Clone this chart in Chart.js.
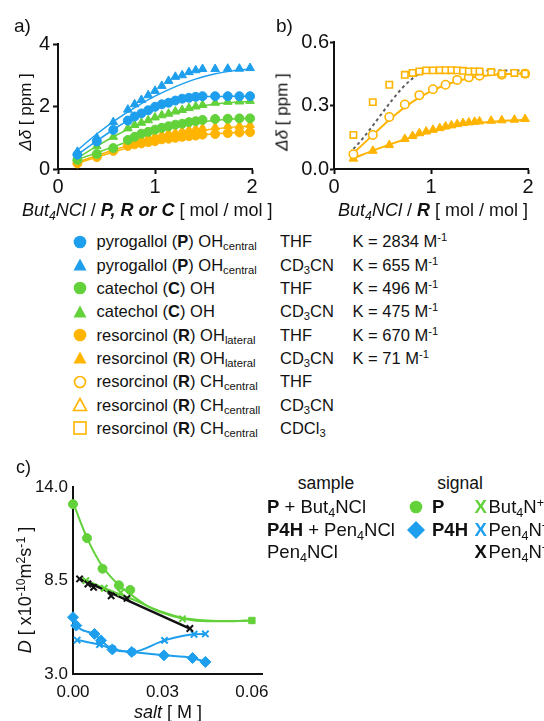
<!DOCTYPE html>
<html><head><meta charset="utf-8">
<script src="https://cdn.jsdelivr.net/npm/chart.js@4.4.1/dist/chart.umd.min.js"></script>
<style>
html,body{margin:0;padding:0;background:#fff;}
#root{position:relative;width:544px;height:721px;overflow:hidden;font-family:"Liberation Sans",Arial,Helvetica,sans-serif;color:#111;}
canvas{position:absolute;}
.t{position:absolute;white-space:nowrap;line-height:1;}
.rot{transform:translate(-50%,-50%) rotate(-90deg);}
.ctr{transform:translate(-50%,0);}
sub{font-size:0.68em;vertical-align:-0.3em;line-height:0}
sup{font-size:0.68em;vertical-align:0.5em;line-height:0}
svg{position:absolute;overflow:visible}
</style></head><body><div id="root">
<canvas id="cA" width="262" height="165" style="left:0px;top:29px"></canvas>
<canvas id="cB" width="268" height="165" style="left:270px;top:29px"></canvas>
<canvas id="cC" width="277" height="232" style="left:0px;top:472px"></canvas>
</div>
<script>
// ---------- colours ----------
const BLUE = '#1E9FEE', GREEN = '#62D13A', ORANGE = '#FFB400', BLACK = '#111111', GREY = '#606060';

// ---------- panel a data ----------
const aEquiv = [0.2,0.4,0.57,0.72,0.79,0.86,0.93,1.0,1.07,1.14,1.21,1.28,1.35,1.42,1.49,1.62,1.75,1.87,1.98];
const aP_THF   = [0.46,0.88,1.25,1.55,1.68,1.78,1.88,1.99,2.07,2.12,2.19,2.25,2.28,2.31,2.33,2.33,2.33,2.33,2.33];
const aP_CD3CN = [0.55,1.0,1.5,1.9,2.07,2.21,2.36,2.5,2.66,2.82,2.95,3.0,3.1,3.16,3.2,3.2,3.21,3.21,3.23];
const aC_THF   = [0.29,0.48,0.67,0.93,1.03,1.13,1.19,1.26,1.32,1.37,1.42,1.45,1.5,1.53,1.57,1.6,1.61,1.62,1.62];
const aC_CD3CN = [0.34,0.73,1.03,1.3,1.41,1.48,1.56,1.65,1.72,1.77,1.84,1.89,1.95,2.0,2.05,2.12,2.15,2.16,2.18];
const aR_THF   = [0.18,0.38,0.58,0.74,0.79,0.82,0.86,0.89,0.95,0.97,1.0,1.03,1.05,1.07,1.1,1.12,1.15,1.17,1.18];
const aR_CD3CN = [0.22,0.43,0.63,0.79,0.89,0.95,1.0,1.05,1.1,1.15,1.17,1.22,1.26,1.29,1.31,1.34,1.38,1.38,1.41];
const aFitX = [0.2,0.4,0.6,0.8,1.0,1.2,1.4,1.6,1.8,2.0];
const aFitP_THF   = [0.46,0.9,1.32,1.7,2.0,2.2,2.3,2.32,2.33,2.33];
const aFitP_CD3CN = [0.6,1.12,1.58,1.98,2.33,2.62,2.86,3.03,3.14,3.2];
const aFitC_THF   = [0.3,0.52,0.74,0.96,1.16,1.33,1.46,1.55,1.6,1.62];
const aFitC_CD3CN = [0.35,0.73,1.08,1.38,1.62,1.82,1.97,2.07,2.13,2.16];
const aFitR_THF   = [0.18,0.38,0.57,0.74,0.88,0.99,1.07,1.12,1.16,1.18];
const aFitR_CD3CN = [0.22,0.43,0.63,0.8,0.95,1.08,1.19,1.28,1.34,1.38];
const aXTicks = [0,1,2], aYTicks = [0,2,4];

// ---------- panel b data ----------
const bEquiv = [0.2,0.4,0.57,0.73,0.81,0.88,0.95,1.02,1.09,1.15,1.21,1.27,1.33,1.39,1.45,1.5,1.62,1.73,1.86,1.97];
const bSq_CDCl3 = [0.161,0.316,0.398,0.445,0.454,0.461,0.466,0.466,0.467,0.467,0.467,0.466,0.464,0.461,0.461,0.461,0.458,0.45,0.454,0.45];
const bTri_CD3CN = [0.049,0.086,0.113,0.142,0.156,0.169,0.177,0.185,0.193,0.201,0.206,0.212,0.217,0.22,0.223,0.225,0.228,0.23,0.233,0.236];
const bCircX = [0.2,0.4,0.57,0.73,0.88,1.02,1.15,1.27,1.39,1.5,1.73,1.97];
const bCirc_THF = [0.07,0.161,0.246,0.305,0.349,0.377,0.398,0.421,0.433,0.441,0.445,0.45];
const bFitX = [0.2,0.4,0.6,0.8,1.0,1.2,1.4,1.6,1.8,2.0];
const bFitCirc = [0.075,0.16,0.245,0.315,0.368,0.405,0.43,0.443,0.449,0.452];
const bFitTri = [0.05,0.087,0.12,0.15,0.176,0.197,0.212,0.222,0.229,0.233];
const bFitSqX = [0.75,0.9,1.05,1.2,1.35,1.5];
const bFitSq = [0.455,0.463,0.467,0.468,0.466,0.462];
const bDashX = [0.2,1.0,2.0];
const bDashY = [0.095,0.465,0.465];
const bXTicks = [0,1,2], bYTicks = [0,0.3,0.6];

// ---------- panel c data ----------
const cP_x = [0,0.0047,0.0099,0.0154,0.0192];
const cP_D = [13.0,11.0,9.2,8.22,7.95];
const cPfit_x = [0,0.005,0.01,0.015,0.02,0.025,0.03,0.037,0.045,0.052,0.06];
const cPfit_D = [13.1,10.9,9.3,8.3,7.6,7.0,6.6,6.25,6.1,6.1,6.15];
const cBut_x = [0.0043,0.0105,0.016,0.0367];
const cBut_D = [8.5,8.05,7.8,6.25];
const cButFit_x = [0.004,0.01,0.015,0.02,0.025,0.03,0.037,0.045,0.052,0.06];
const cButFit_D = [8.55,8.1,7.75,7.4,7.0,6.65,6.3,6.15,6.12,6.15];
const cSq_x = [0.06], cSq_D = [6.15];
const cPen_x = [0.0022,0.005,0.0069,0.0128,0.0181,0.0392];
const cPen_D = [8.6,8.3,8.1,7.6,7.45,5.68];
const cPenFit_x = [0.0022,0.0392];
const cPenFit_D = [8.62,5.67];
const cP4H_x = [0,0.0011,0.0072,0.0094,0.0132,0.0197,0.0305,0.0401,0.0444];
const cP4H_D = [6.34,5.85,5.36,4.98,4.45,4.3,4.1,3.94,3.71];
const cPenP4H_x = [0.0014,0.0089,0.0132,0.0198,0.0307,0.0406,0.0444];
const cPenP4H_D = [5.0,4.73,4.48,4.3,4.98,5.34,5.36];
const cXTicks = [0,0.03,0.06], cYTicks = [3.0,8.5,14.0];

// ---------- helpers ----------
const FONT = '"Liberation Sans", Arial, Helvetica, sans-serif';
const zip = (xs, ys) => xs.map((x, i) => ({x, y: ys[i]}));
function pts(xs, ys, style, color, r, open) {
  return {data: zip(xs, ys), showLine: false, pointStyle: style, pointRadius: r,
    pointBackgroundColor: open ? '#ffffff' : color, pointBorderColor: color,
    pointBorderWidth: open ? 1.6 : 1, clip: false};
}
function xpts(xs, ys, color, r) {
  return {data: zip(xs, ys), showLine: false, pointStyle: 'crossRot', pointRadius: r,
    pointBorderColor: color, pointBorderWidth: 2, clip: false};
}
function line(xs, ys, color, w, dash) {
  return {data: zip(xs, ys), showLine: true, pointRadius: 0, borderColor: color, borderWidth: w,
    cubicInterpolationMode: 'monotone', borderDash: dash || [], fill: false, clip: false};
}
function axis(min, max, tickVals, fmt, fs, tickLen, pad, fitKey, fitVal) {
  return {
    type: 'linear', min, max,
    afterBuildTicks: s => { s.ticks = tickVals.map(v => ({value: v})); },
    ticks: {callback: v => fmt(v), font: {family: FONT, size: fs}, color: '#111', padding: pad, maxRotation: 0},
    grid: {drawOnChartArea: false, drawTicks: tickLen > 0, tickLength: tickLen, tickColor: '#111', tickWidth: 2},
    border: {display: true, color: '#111', width: 2},
    afterFit: s => { s[fitKey] = fitVal; }
  };
}
function baseOpts(scales, padTop) {
  return {animation: false, responsive: false, devicePixelRatio: 1,
    layout: {padding: {top: padTop, right: 10, left: 0, bottom: 0}},
    plugins: {legend: {display: false}, tooltip: {enabled: false}},
    events: [], scales};
}

// ---------- chart a ----------
new Chart(document.getElementById('cA'), {
  type: 'scatter',
  data: {datasets: [
    pts(aEquiv, aP_CD3CN, 'triangle', BLUE, 5),
    pts(aEquiv, aP_THF, 'circle', BLUE, 4.5),
    pts(aEquiv, aC_CD3CN, 'triangle', GREEN, 5),
    pts(aEquiv, aC_THF, 'circle', GREEN, 4.5),
    pts(aEquiv, aR_CD3CN, 'triangle', ORANGE, 5),
    pts(aEquiv, aR_THF, 'circle', ORANGE, 4.5),
    line(aFitX, aFitP_CD3CN, BLUE, 1.5),
    line(aFitX, aFitP_THF, BLUE, 1.5),
    line(aFitX, aFitC_CD3CN, GREEN, 1.5),
    line(aFitX, aFitC_THF, GREEN, 1.5),
    line(aFitX, aFitR_CD3CN, ORANGE, 1.5),
    line(aFitX, aFitR_THF, ORANGE, 1.5)
  ]},
  options: baseOpts({
    x: axis(0, 2, aXTicks, v => String(v), 20, 5, 1, 'height', 25),
    y: axis(0, 4, aYTicks, v => String(v), 20, 5, 3, 'width', 58)
  }, 12)
});

// ---------- chart b ----------
new Chart(document.getElementById('cB'), {
  type: 'scatter',
  data: {datasets: [
    pts(bEquiv, bSq_CDCl3, 'rect', ORANGE, 4.5, true),
    pts(bCircX, bCirc_THF, 'circle', ORANGE, 4.2, true),
    pts(bEquiv, bTri_CD3CN, 'triangle', ORANGE, 5),
    line(bDashX, bDashY, GREY, 2, [3, 3]),
    line(bFitSqX, bFitSq, ORANGE, 2),
    line(bFitX, bFitCirc, ORANGE, 2),
    line(bFitX, bFitTri, ORANGE, 2)
  ]},
  options: baseOpts({
    x: axis(0, 2, bXTicks, v => String(v), 20, 5, 1, 'height', 25),
    y: axis(0, 0.6, bYTicks, v => v.toFixed(1), 20, 4, 1, 'width', 64)
  }, 12)
});

// ---------- chart c ----------
new Chart(document.getElementById('cC'), {
  type: 'scatter',
  data: {datasets: [
    xpts(cPen_x, cPen_D, BLACK, 4.5),
    pts(cP_x, cP_D, 'circle', GREEN, 4.5),
    xpts(cBut_x, cBut_D, GREEN, 4.5),
    pts(cSq_x, cSq_D, 'rect', GREEN, 4.5),
    pts(cP4H_x, cP4H_D, 'rectRot', BLUE, 5.5),
    xpts(cPenP4H_x, cPenP4H_D, BLUE, 4.5),
    line(cPenFit_x, cPenFit_D, BLACK, 2.5),
    line(cPfit_x, cPfit_D, GREEN, 2),
    line(cButFit_x, cButFit_D, GREEN, 2),
    line(cP4H_x, cP4H_D, BLUE, 2),
    line(cPenP4H_x, cPenP4H_D, BLUE, 2)
  ]},
  options: baseOpts({
    x: axis(0, 0.0636, cXTicks, v => v.toFixed(2), 17, 0, 8, 'height', 30),
    y: axis(3, 14, cYTicks, v => v.toFixed(1), 17, 0, 5, 'width', 73)
  }, 11)
});

// ---------- text overlays ----------
const root = document.getElementById('root');
function txt(html, left, top, size, cls, extra) {
  const d = document.createElement('div');
  d.className = 't ' + (cls || '');
  d.style.left = left + 'px'; d.style.top = top + 'px'; d.style.fontSize = size + 'px';
  if (extra) Object.assign(d.style, extra);
  d.innerHTML = html; root.appendChild(d); return d;
}
// panel labels
txt('a)', 14, 16, 19);
txt('b)', 276, 16, 19);
txt('c)', 16, 458, 18);
// axis titles
txt('<i>Δδ</i> [ ppm ]', 25, 112, 17, 'rot');
txt('<i>Δδ</i> [ ppm ]', 282, 112, 17, 'rot');
txt('<i>But<sub>4</sub>NCl</i> / <b><i>P, R or C</i></b> [ mol / mol ]', 22, 201, 18);
txt('<i>But<sub>4</sub>NCl</i> / <b><i>R</i></b> [ mol / mol ]', 433, 201, 18, 'ctr');
txt('<i>D</i> [ x10<sup>-10</sup>m<sup>2</sup>s<sup>-1</sup> ]', 25, 590, 18, 'rot');
txt('<i>salt</i> [ M ]', 168, 703, 18, 'ctr');

// middle legend
function marker(shape, color, open, cx, cy, size) {
  const ns = 'http://www.w3.org/2000/svg';
  const k = (size || 16) / 16;
  const s = document.createElementNS(ns, 'svg');
  s.setAttribute('width', 16 * k); s.setAttribute('height', 16 * k);
  s.setAttribute('viewBox', '0 0 16 16');
  s.style.left = (cx - 8 * k) + 'px'; s.style.top = (cy - 8 * k) + 'px';
  const fill = open ? 'none' : color, sw = open ? 1.6 : 0;
  let el;
  if (shape === 'circle') { el = document.createElementNS(ns, 'circle'); el.setAttribute('cx', 8); el.setAttribute('cy', 8); el.setAttribute('r', open ? 5.5 : 6.3); }
  else if (shape === 'triangle') { el = document.createElementNS(ns, 'polygon'); el.setAttribute('points', '8,1.5 14.5,13.5 1.5,13.5'); }
  else if (shape === 'square') { el = document.createElementNS(ns, 'rect'); el.setAttribute('x', 2); el.setAttribute('y', 2); el.setAttribute('width', 12); el.setAttribute('height', 12); }
  else if (shape === 'diamond') { el = document.createElementNS(ns, 'polygon'); el.setAttribute('points', '8,0 16,8 8,16 0,8'); }
  el.setAttribute('fill', fill); el.setAttribute('stroke', color); el.setAttribute('stroke-width', sw);
  s.appendChild(el); root.appendChild(s);
}
const legRows = [
  ['circle', BLUE, false, 'pyrogallol (<b>P</b>) OH<sub>central</sub>', 'THF', 'K = 2834 M<sup>-1</sup>'],
  ['triangle', BLUE, false, 'pyrogallol (<b>P</b>) OH<sub>central</sub>', 'CD<sub>3</sub>CN', 'K = 655 M<sup>-1</sup>'],
  ['circle', GREEN, false, 'catechol (<b>C</b>) OH', 'THF', 'K = 496 M<sup>-1</sup>'],
  ['triangle', GREEN, false, 'catechol (<b>C</b>) OH', 'CD<sub>3</sub>CN', 'K = 475 M<sup>-1</sup>'],
  ['circle', ORANGE, false, 'resorcinol (<b>R</b>) OH<sub>lateral</sub>', 'THF', 'K = 670 M<sup>-1</sup>'],
  ['triangle', ORANGE, false, 'resorcinol (<b>R</b>) OH<sub>lateral</sub>', 'CD<sub>3</sub>CN', 'K = 71 M<sup>-1</sup>'],
  ['circle', ORANGE, true, 'resorcinol (<b>R</b>) CH<sub>central</sub>', 'THF', ''],
  ['triangle', ORANGE, true, 'resorcinol (<b>R</b>) CH<sub>centrall</sub>', 'CD<sub>3</sub>CN', ''],
  ['square', ORANGE, true, 'resorcinol (<b>R</b>) CH<sub>central</sub>', 'CDCl<sub>3</sub>', '']
];
legRows.forEach((r, i) => {
  const cy = 241.7 + i * 23.33;
  marker(r[0], r[1], r[2], 80, cy);
  txt(r[3], 96.5, cy - 8.5, 16.5);
  txt(r[4], 280, cy - 8.5, 16.5);
  if (r[5]) txt(r[5], 352.5, cy - 8.5, 16.5);
});

// panel c legend
txt('sample', 326, 474.5, 17.5, 'ctr');
txt('signal', 460, 474.5, 17.5, 'ctr');
const cRows = [
  ['<b>P</b> + But<sub>4</sub>NCl', 'circle', GREEN, '<b>P</b>', GREEN, 'But<sub>4</sub>N<sup>+</sup>'],
  ['<b>P4H</b> + Pen<sub>4</sub>NCl', 'diamond', BLUE, '<b>P4H</b>', BLUE, 'Pen<sub>4</sub>N<sup>+</sup>'],
  ['Pen<sub>4</sub>NCl', null, null, '', BLACK, 'Pen<sub>4</sub>N<sup>+</sup>']
];
cRows.forEach((r, i) => {
  const cy = 507 + i * 22.7;
  txt(r[0], 267, cy - 9, 18.5);
  if (r[1]) marker(r[1], r[2], false, 416, cy, r[1] === 'diamond' ? 18 : 16);
  if (r[3]) txt(r[3], 432, cy - 9, 18.5);
  txt('<b>X</b>', 474.5, cy - 9, 18.5, '', {color: r[4]});
  txt(r[5], 488.5, cy - 9, 18.5);
});
</script>
</body></html>
